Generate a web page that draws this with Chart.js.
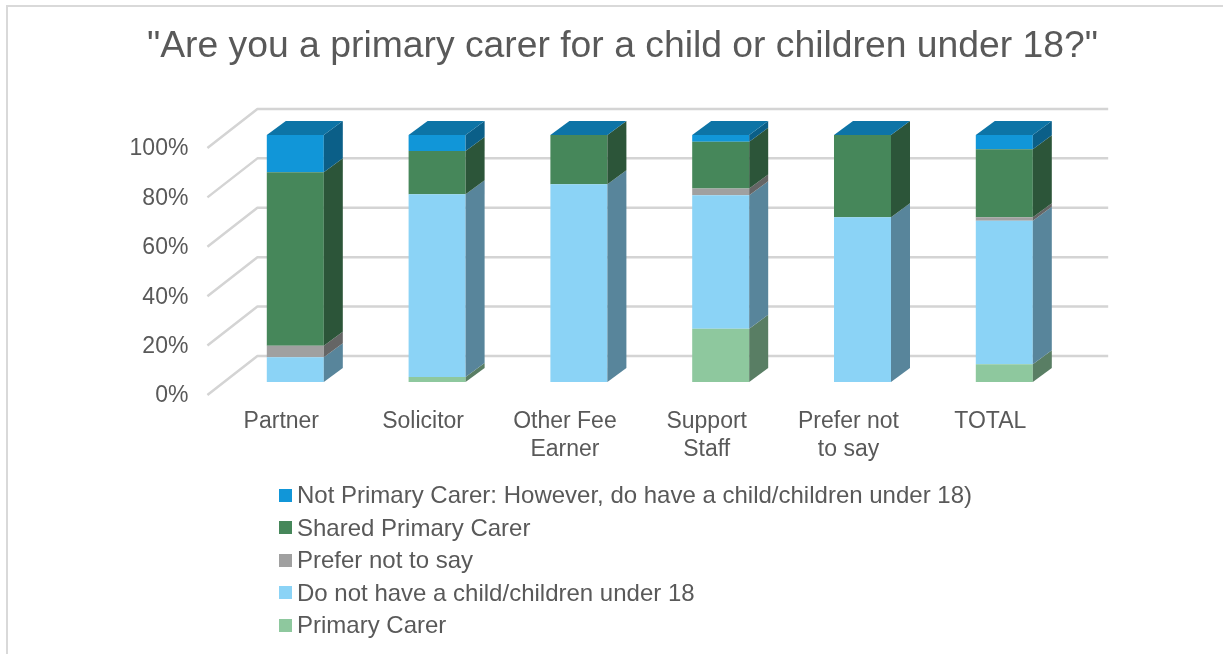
<!DOCTYPE html>
<html>
<head>
<meta charset="utf-8">
<script src="https://cdn.jsdelivr.net/npm/chart.js@4.4.0/dist/chart.umd.min.js"></script>
<style>
  html, body { margin: 0; padding: 0; background: #fff; overflow: hidden; }
  #wrap { position: relative; width: 1223px; height: 654px; }
  #frame { position: absolute; left: 6px; top: 5px; width: 1300px; height: 700px; border: 2px solid #d9d9d9; box-sizing: border-box; }
  canvas { position: absolute; left: 0; top: 0; }
  #legend { position: absolute; left: 279px; top: 479px; font-family: 'Liberation Sans', Arial, sans-serif; font-size: 24px; color: #595959; }
  .item { display: flex; align-items: center; height: 32.5px; white-space: nowrap; }
  .box { width: 13px; height: 13px; margin-right: 5px; flex: none; }
</style>
</head>
<body>
<div id="wrap">
  <div id="frame"></div>
  <canvas id="chart" width="1223" height="654"></canvas>
  <div id="legend"></div>
</div>
<script>
//Categories (multi-line labels split into arrays)
const categories = ['Partner', 'Solicitor', ['Other Fee', 'Earner'], ['Support', 'Staff'], ['Prefer not', 'to say'], 'TOTAL'];

//Series values in %, bottom of the stack first
const primaryCarer = [0, 2, 0, 21.6, 0, 7.2];
const noChildren = [10, 74, 80, 54, 66.7, 58.1];
const preferNot = [4.7, 0, 0, 2.7, 0, 1.4];
const sharedCarer = [70.2, 17.5, 20, 19, 33.3, 27.5];
const notPrimary = [15.1, 6.5, 0, 2.7, 0, 5.8];

const seriesNames = [
  'Primary Carer',
  'Do not have a child/children under 18',
  'Prefer not to say',
  'Shared Primary Carer',
  'Not Primary Carer: However, do have a child/children under 18)',
];
const seriesValues = [primaryCarer, noChildren, preferNot, sharedCarer, notPrimary];

//Y axis ticks
const yTicks = [0, 20, 40, 60, 80, 100];

//Colours for the front faces
const seriesColors = ['#8ec89e', '#8bd3f6', '#a0a0a0', '#46875a', '#1196d8'];

//Depth of the fake 3D walls and bars (px)
const FRONT_DX = -17, FRONT_DY = 13;
const BACK_DX = 33, BACK_DY = 26;
const BAR_DX = 19, BAR_DY = 14;

const textColor = '#595959';
const fontFamily = `'Liberation Sans', Arial, sans-serif`;

function shade(hex, f) {
  const n = parseInt(hex.slice(1), 16);
  const r = Math.round(((n >> 16) & 255) * f);
  const g = Math.round(((n >> 8) & 255) * f);
  const b = Math.round((n & 255) * f);
  return `rgb(${r},${g},${b})`;
}

//Draws the back wall grid and the side/top faces of the bars
const depth3d = {
  id: 'depth3d',
  beforeDatasetsDraw(chart) {
    const { ctx, chartArea: a } = chart;
    const y = chart.scales.y;
    ctx.save();
    ctx.strokeStyle = '#d4d4d4';
    ctx.lineWidth = 2.5;
    ctx.lineJoin = 'round';
    y.ticks.forEach((t) => {
      const py = y.getPixelForValue(t.value);
      ctx.beginPath();
      ctx.moveTo(a.left + FRONT_DX, py + FRONT_DY);
      ctx.lineTo(a.left + BACK_DX, py - BACK_DY);
      ctx.lineTo(a.right + BACK_DX, py - BACK_DY);
      ctx.stroke();
    });
    ctx.restore();
  },
  afterDatasetsDraw(chart) {
    const ctx = chart.ctx;
    const last = chart.data.datasets.length - 1;
    ctx.save();
    chart.data.datasets.forEach((ds, i) => {
      const meta = chart.getDatasetMeta(i);
      meta.data.forEach((bar) => {
        const { x, y, base, width } = bar.getProps(['x', 'y', 'base', 'width'], true);
        const left = x - width / 2, right = x + width / 2;
        const top = Math.min(y, base), bottom = Math.max(y, base);
        if (bottom - top > 0) {
          ctx.fillStyle = shade(seriesColors[i], 0.63);
          ctx.beginPath();
          ctx.moveTo(right, top);
          ctx.lineTo(right + BAR_DX, top - BAR_DY);
          ctx.lineTo(right + BAR_DX, bottom - BAR_DY);
          ctx.lineTo(right, bottom);
          ctx.closePath();
          ctx.fill();
        }
        if (i === last) {
          ctx.fillStyle = shade(seriesColors[i], 0.77);
          ctx.beginPath();
          ctx.moveTo(left, top);
          ctx.lineTo(left + BAR_DX, top - BAR_DY);
          ctx.lineTo(right + BAR_DX, top - BAR_DY);
          ctx.lineTo(right, top);
          ctx.closePath();
          ctx.fill();
        }
      });
    });
    ctx.restore();
  },
};

Chart.defaults.font.family = fontFamily;
Chart.defaults.color = textColor;

const datasets = seriesNames.map((name, i) => ({
  label: name,
  data: seriesValues[i],
  backgroundColor: seriesColors[i],
  borderWidth: 0,
  barPercentage: 0.402,
  categoryPercentage: 1,
}));

new Chart('chart', {
  type: 'bar',
  data: { labels: categories, datasets: datasets },
  plugins: [depth3d],
  options: {
    responsive: false,
    animation: false,
    layout: { padding: { left: 124.4, right: 102.4, top: 0, bottom: 192 } },
    plugins: {
      legend: { display: false },
      tooltip: { enabled: false },
      title: {
        display: true,
        text: '"Are you a primary carer for a child or children under 18?"',
        color: textColor,
        font: { size: 37.3, weight: 'normal' },
        padding: { top: 24.5, bottom: 65.7 },
      },
    },
    scales: {
      x: {
        stacked: true,
        grid: { display: false, drawTicks: false },
        border: { display: false },
        ticks: { font: { size: 23, lineHeight: 1.22 }, color: textColor, padding: 26, labelOffset: -14, maxRotation: 0, autoSkip: false },
        afterFit: (scale) => { scale.height = 80; },
      },
      y: {
        stacked: true,
        min: 0,
        max: 100,
        afterBuildTicks: (scale) => { scale.ticks = yTicks.map((v) => ({ value: v })); },
        grid: { display: false, drawTicks: false },
        border: { display: false },
        ticks: { font: { size: 23 }, color: textColor, padding: 36, labelOffset: 14, callback: (v) => v + '%' },
        afterFit: (scale) => { scale.width = 100; },
      },
      //empty spacer on the right so the title is centred like the original
      spacer: {
        type: 'linear',
        position: 'right',
        display: true,
        grid: { display: false, drawTicks: false },
        border: { display: false },
        ticks: { display: false },
        afterFit: (scale) => { scale.width = 45.4; },
      },
    },
  },
});

//Legend, top series first
const legend = document.getElementById('legend');
seriesNames.slice().reverse().forEach((name, k) => {
  const i = seriesNames.length - 1 - k;
  const row = document.createElement('div');
  row.className = 'item';
  const box = document.createElement('span');
  box.className = 'box';
  box.style.background = seriesColors[i];
  const txt = document.createElement('span');
  txt.textContent = name;
  row.appendChild(box);
  row.appendChild(txt);
  legend.appendChild(row);
});
</script>
</body>
</html>
